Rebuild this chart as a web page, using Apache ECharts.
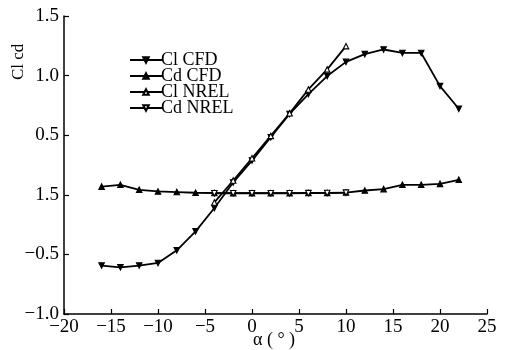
<!DOCTYPE html>
<html><head><meta charset="utf-8">
<script src="https://cdn.jsdelivr.net/npm/echarts@6/dist/echarts.min.js"></script>
<style>html,body{margin:0;padding:0;background:#fff}#c{width:507px;height:350px}</style>
</head><body><div id="c"></div>
<script>
var alpha = [-16,-14,-12,-10,-8,-6,-4,-2,0,2,4,6,8,10,12,14,16,18,20,22];
var clCFD = [-0.594,-0.608,-0.594,-0.572,-0.466,-0.307,-0.111,0.103,0.287,0.483,0.678,0.845,0.996,1.115,1.18,1.219,1.19,1.19,0.912,0.722];
var cdCFD = [0.069,0.084,0.042,0.028,0.023,0.017,0.015,0.014,0.014,0.014,0.014,0.015,0.016,0.019,0.036,0.048,0.084,0.084,0.092,0.126];
var alphaNREL = [-4,-2,0,2,4,6,8,10];
var clNREL = [-0.064,0.12,0.307,0.494,0.684,0.884,1.052,1.247];
var cdNREL = [0.013,0.013,0.013,0.013,0.013,0.014,0.015,0.018];
var xTicks = [-20,-15,-10,-5,0,5,10,15,20,25];
var yTicks = [-1.0,-0.5,0,0.5,1.0,1.5];
var yTickLabels = ['\u22121.0','\u22120.5','1.5','0.5','1.0','1.5'];
var xName = '\u03b1 ( \u00b0 )';
var yName = 'Cl cd';
var names = ['Cl CFD','Cd CFD','Cl NREL','Cd NREL'];

function pairs(xs, ys){ return xs.map(function(x,i){return [x, ys[i]];}); }
var FONT = '"Liberation Serif","Times New Roman",serif';
var chart = echarts.init(document.getElementById('c'));
function ser(name, xs, ys, filled, down){
  return {
    name: name, type: 'line', data: pairs(xs, ys),
    symbol: 'triangle', symbolSize: 5.5, symbolRotate: down ? 180 : 0,
    lineStyle: {color: '#000', width: 1.8},
    itemStyle: {color: filled ? '#000' : '#fff', borderColor: '#000', borderWidth: 1.1},
    emphasis: {disabled: true}, animation: false, z: filled ? 2 : 3
  };
}
chart.setOption({
  animation: false,
  backgroundColor: '#fff',
  grid: {left: 64, right: 20, top: 16, bottom: 36},
  xAxis: {
    type: 'value', min: -20, max: 25, interval: 5,
    axisLine: {onZero: false, lineStyle: {color: '#000', width: 1.5}},
    axisTick: {inside: true, length: 5, lineStyle: {color: '#000', width: 1.2}},
    axisLabel: {color: '#000', fontFamily: FONT, fontSize: 19, margin: 4,
      formatter: function(v){ var i = xTicks.indexOf(v); return i < 0 ? '' : String(xTicks[i]).replace('-', '\u2212'); }},
    splitLine: {show: false}
  },
  yAxis: {
    type: 'value', min: -1.0, max: 1.5, interval: 0.5,
    axisLine: {show: true, onZero: false, lineStyle: {color: '#000', width: 1.5}},
    axisTick: {show: true, inside: true, length: 5, lineStyle: {color: '#000', width: 1.2}},
    axisLabel: {color: '#000', fontFamily: FONT, fontSize: 19, margin: 5,
      formatter: function(v){ for (var i=0;i<yTicks.length;i++){ if (Math.abs(yTicks[i]-v)<1e-6) return yTickLabels[i]; } return ''; }},
    splitLine: {show: false}
  },
  legend: {
    orient: 'vertical', left: 124, top: 46, itemWidth: 32, itemHeight: 7, itemGap: -2,
    data: names,
    textStyle: {color: '#000', fontFamily: FONT, fontSize: 18, lineHeight: 16, padding: [0,0,0,-6]}
  },
  graphic: [
    {type: 'text', left: 253, top: 331, style: {text: xName, font: '18px ' + FONT, fill: '#000'}},
    {type: 'text', x: 10, y: 80, rotation: Math.PI/2, style: {text: yName, font: '17px ' + FONT, fill: '#000'}}
  ],
  series: [
    ser(names[0], alpha, clCFD, true, true),
    ser(names[1], alpha, cdCFD, true, false),
    ser(names[2], alphaNREL, clNREL, false, false),
    ser(names[3], alphaNREL, cdNREL, false, true)
  ]
});
</script></body></html>
